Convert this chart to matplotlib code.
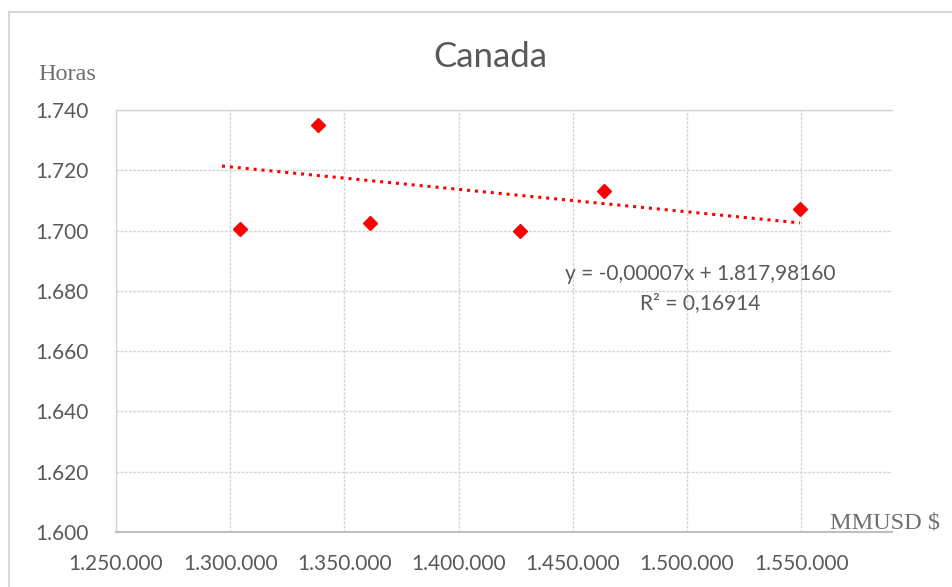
import matplotlib.pyplot as plt
from matplotlib.patches import Rectangle
from matplotlib.ticker import FuncFormatter, MultipleLocator

# PIB (MMUSD) y horas trabajadas, Canada
pib = [1304200, 1338400, 1361100, 1426700, 1463600, 1549500]
horas = [1700.4, 1735.0, 1702.6, 1699.8, 1713.1, 1707.1]

# recta de tendencia
pendiente = -0.0000745
intercepto = 1817.98160
tendencia_x = [1296400, 1549500]
ecuacion = "y = -0,00007x + 1.817,98160"
r2 = "R² = 0,16914"

gris = '#595959'
fuente = 'Lato'

fig = plt.figure(figsize=(9.53, 5.87), dpi=100)
ax = fig.add_axes([116 / 953, 1 - 532 / 587, 776 / 953, 422 / 587])

# marco del grafico
fig.patches.append(Rectangle((9 / 953, -0.1), 1.2, 1 - 12 / 587 + 0.1,
                             transform=fig.transFigure, fill=False,
                             edgecolor='#d9d9d9', linewidth=1.5))

ax.plot(pib, horas, linestyle='none', marker='D', markersize=7.5,
        color='#ff0000', zorder=3)

ty = [pendiente * v + intercepto for v in tendencia_x]
ax.plot(tendencia_x, ty, color='#ff0000', linewidth=2.2,
        linestyle=(0, (1, 1.6)), dash_capstyle='butt', zorder=2)

ax.set_xlim(1250000, 1589800)
ax.set_ylim(1600, 1740)
ax.xaxis.set_major_locator(MultipleLocator(50000))
ax.yaxis.set_major_locator(MultipleLocator(20))
miles = FuncFormatter(lambda v, p: f"{v:,.0f}".replace(',', '.'))
ax.xaxis.set_major_formatter(miles)
ax.yaxis.set_major_formatter(miles)

ax.grid(True, color='#d4d4d4', linewidth=1, linestyle=(0, (2, 1)))
ax.set_axisbelow(True)
for lado in ['top', 'left']:
    ax.spines[lado].set_color('#d4d4d4')
    ax.spines[lado].set_linewidth(1)
ax.spines['right'].set_visible(False)
ax.spines['bottom'].set_color('#bfbfbf')
ax.spines['bottom'].set_linewidth(1.5)

ax.tick_params(axis='y', length=0, pad=20, labelsize=15, labelcolor=gris)
ax.tick_params(axis='x', length=0, pad=16, labelsize=15, labelcolor=gris)
for lab in ax.get_xticklabels() + ax.get_yticklabels():
    lab.set_fontfamily(fuente)

fig.text(490 / 953, 1 - 57 / 587, 'Canada', ha='center', va='center',
         fontsize=25, color=gris, family=fuente)
fig.text(38 / 953, 1 - 75 / 587, 'Horas', ha='left', va='center',
         fontsize=17.5, color='#6f6f6f', family='Liberation Serif')
fig.text(940 / 953, 1 - 523 / 587, 'MMUSD $', ha='right', va='center',
         fontsize=17.5, color='#6f6f6f', family='Liberation Serif')

fig.text(700 / 953, 1 - 274 / 587, ecuacion, ha='center', va='center',
         fontsize=15, color=gris, family=fuente)
fig.text(700 / 953, 1 - 303 / 587, r2, ha='center', va='center',
         fontsize=15, color=gris, family=fuente)

fig.savefig('out.png', dpi=100)
